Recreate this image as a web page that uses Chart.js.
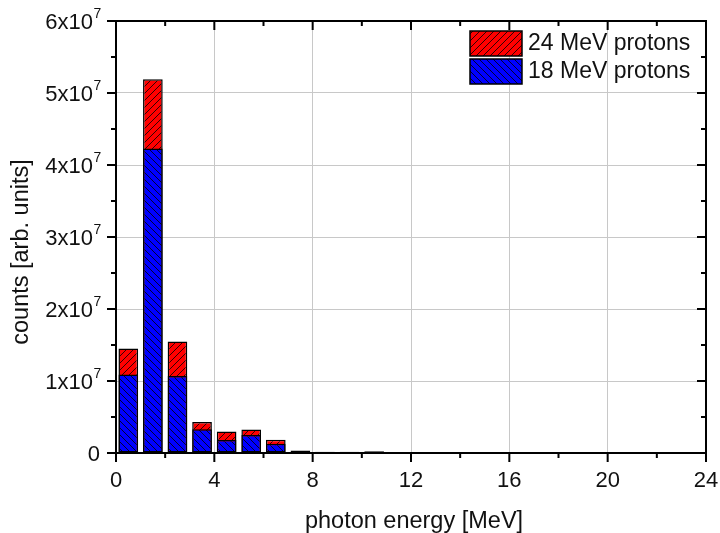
<!DOCTYPE html>
<html><head><meta charset="utf-8">
<script src="https://cdn.jsdelivr.net/npm/chart.js@4/dist/chart.umd.min.js"></script>
<style>html,body{margin:0;padding:0;background:#fff}#wrap{width:720px;height:533px}</style>
</head><body><div id="wrap"><canvas id="c" width="720" height="533"></canvas></div>
<script>
const binCenters = [0.5, 1.5, 2.5, 3.5, 4.5, 5.5, 6.5, 7.5, 8.5, 9.5, 10.5];
const counts24 = [1.45e7, 5.19e7, 1.55e7, 4.3e6, 3.0e6, 3.25e6, 1.85e6, 3.5e5, 1.6e5, 1.9e5, 2.3e5];
const counts18 = [1.09e7, 4.23e7, 1.07e7, 3.3e6, 1.8e6, 2.5e6, 1.3e6, 1.5e5, 5e4, 6e4, 8e4];
const seriesLabels = ['24 MeV protons', '18 MeV protons'];
const xTicks = [0, 4, 8, 12, 16, 20, 24];
const xMinorTicks = [2, 6, 10, 14, 18, 22];
const yTicks = [0, 1e7, 2e7, 3e7, 4e7, 5e7, 6e7];
const yMinorTicks = [0.5e7, 1.5e7, 2.5e7, 3.5e7, 4.5e7, 5.5e7];
const xTitle = 'photon energy [MeV]';
const yTitle = 'counts [arb. units]';

const canvas = document.getElementById('c');
const mainCtx = canvas.getContext('2d');

function hatch(color, dir) {
  const s = 7;
  const c = document.createElement('canvas');
  c.width = s; c.height = s;
  const g = c.getContext('2d');
  g.fillStyle = color; g.fillRect(0, 0, s, s);
  g.strokeStyle = '#000'; g.lineWidth = 0.8;
  g.beginPath();
  for (let k = -1; k <= 1; k++) {
    if (dir > 0) { g.moveTo(k * s, s); g.lineTo(k * s + s, 0); }
    else { g.moveTo(k * s, 0); g.lineTo(k * s + s, s); }
  }
  g.stroke();
  return mainCtx.createPattern(c, 'repeat');
}
const redPat = hatch('#ff0000', 1);
const bluePat = hatch('#0000ff', -1);
const fills = [redPat, bluePat];

const FONT = '"Liberation Sans", Arial, sans-serif';

const framePlugin = {
  id: 'frame',
  afterDraw(chart) {
    const ctx = chart.ctx;
    const a = chart.chartArea;
    const xs = chart.scales.x, ys = chart.scales.y;
    ctx.save();
    ctx.strokeStyle = '#000';
    ctx.lineWidth = 2;
    ctx.strokeRect(a.left, a.top, a.right - a.left, a.bottom - a.top);
    ctx.beginPath();
    const maj = 9, mnr = 5;
    xTicks.forEach(v => {
      const px = xs.getPixelForValue(v);
      ctx.moveTo(px, a.bottom); ctx.lineTo(px, a.bottom + maj);
      ctx.moveTo(px, a.top); ctx.lineTo(px, a.top + maj);
    });
    xMinorTicks.forEach(v => {
      const px = xs.getPixelForValue(v);
      ctx.moveTo(px, a.bottom); ctx.lineTo(px, a.bottom + mnr);
      ctx.moveTo(px, a.top); ctx.lineTo(px, a.top + mnr);
    });
    yTicks.forEach(v => {
      const py = ys.getPixelForValue(v);
      ctx.moveTo(a.left, py); ctx.lineTo(a.left - maj, py);
      ctx.moveTo(a.right, py); ctx.lineTo(a.right - maj, py);
    });
    yMinorTicks.forEach(v => {
      const py = ys.getPixelForValue(v);
      ctx.moveTo(a.left, py); ctx.lineTo(a.left - mnr, py);
      ctx.moveTo(a.right, py); ctx.lineTo(a.right - mnr, py);
    });
    ctx.stroke();

    ctx.fillStyle = '#111';
    ctx.font = '22px ' + FONT;
    ctx.textAlign = 'center';
    ctx.textBaseline = 'alphabetic';
    xTicks.forEach(v => {
      ctx.fillText(String(v), xs.getPixelForValue(v), 487);
    });
    yTicks.forEach(v => {
      const py = ys.getPixelForValue(v);
      if (v === 0) {
        ctx.font = '22px ' + FONT;
        ctx.textAlign = 'right';
        ctx.fillText('0', 100, py + 8);
      } else {
        const m = Math.round(v / 1e7);
        ctx.font = '22px ' + FONT;
        ctx.textAlign = 'right';
        ctx.fillText(m + 'x10', 93, py + 8);
        ctx.font = '14px ' + FONT;
        ctx.textAlign = 'left';
        ctx.fillText('7', 93.5, py - 3);
      }
    });
    ctx.font = '23.5px ' + FONT;
    ctx.textAlign = 'center';
    ctx.fillText(xTitle, 414, 528);
    ctx.save();
    ctx.translate(27.5, 252);
    ctx.rotate(-Math.PI / 2);
    ctx.fillText(yTitle, 0, 0);
    ctx.restore();

    const boxes = [[470, 31], [470, 59]];
    const base = [50, 78];
    seriesLabels.forEach((lab, i) => {
      const [bx, by] = boxes[i];
      ctx.fillStyle = fills[i];
      ctx.fillRect(bx, by, 52, 25);
      ctx.lineWidth = 1.5;
      ctx.strokeStyle = '#000';
      ctx.strokeRect(bx, by, 52, 25);
      ctx.fillStyle = '#111';
      ctx.font = '23px ' + FONT;
      ctx.textAlign = 'left';
      ctx.fillText(lab, 528, base[i]);
    });
    ctx.restore();
  }
};

new Chart(mainCtx, {
  type: 'bar',
  data: {
    datasets: [
      { label: seriesLabels[0], data: binCenters.map((x, i) => ({ x, y: counts24[i] })),
        backgroundColor: redPat, borderColor: '#000', borderWidth: 1.5, borderSkipped: false, order: 2 },
      { label: seriesLabels[1], data: binCenters.map((x, i) => ({ x, y: counts18[i] })),
        backgroundColor: bluePat, borderColor: '#000', borderWidth: 1.5, borderSkipped: false, order: 1 }
    ]
  },
  options: {
    responsive: false,
    animation: false,
    devicePixelRatio: 1,
    layout: { padding: { left: 0, top: 21, right: 14, bottom: 0 } },
    plugins: { legend: { display: false }, tooltip: { enabled: false } },
    datasets: { bar: { grouped: false, barPercentage: 0.8, categoryPercentage: 1 } },
    scales: {
      x: { type: 'linear', min: 0, max: 24, offset: false,
        ticks: { stepSize: 4, display: false },
        grid: { color: '#c8c8c8', lineWidth: 1, drawTicks: false, offset: false },
        border: { display: false },
        afterFit(s) { s.height = 80; } },
      y: { min: 0, max: 6e7,
        ticks: { stepSize: 1e7, display: false },
        grid: { color: '#c8c8c8', lineWidth: 1, drawTicks: false },
        border: { display: false },
        afterFit(s) { s.width = 116; } }
    }
  },
  plugins: [framePlugin]
});
</script>
</body></html>
